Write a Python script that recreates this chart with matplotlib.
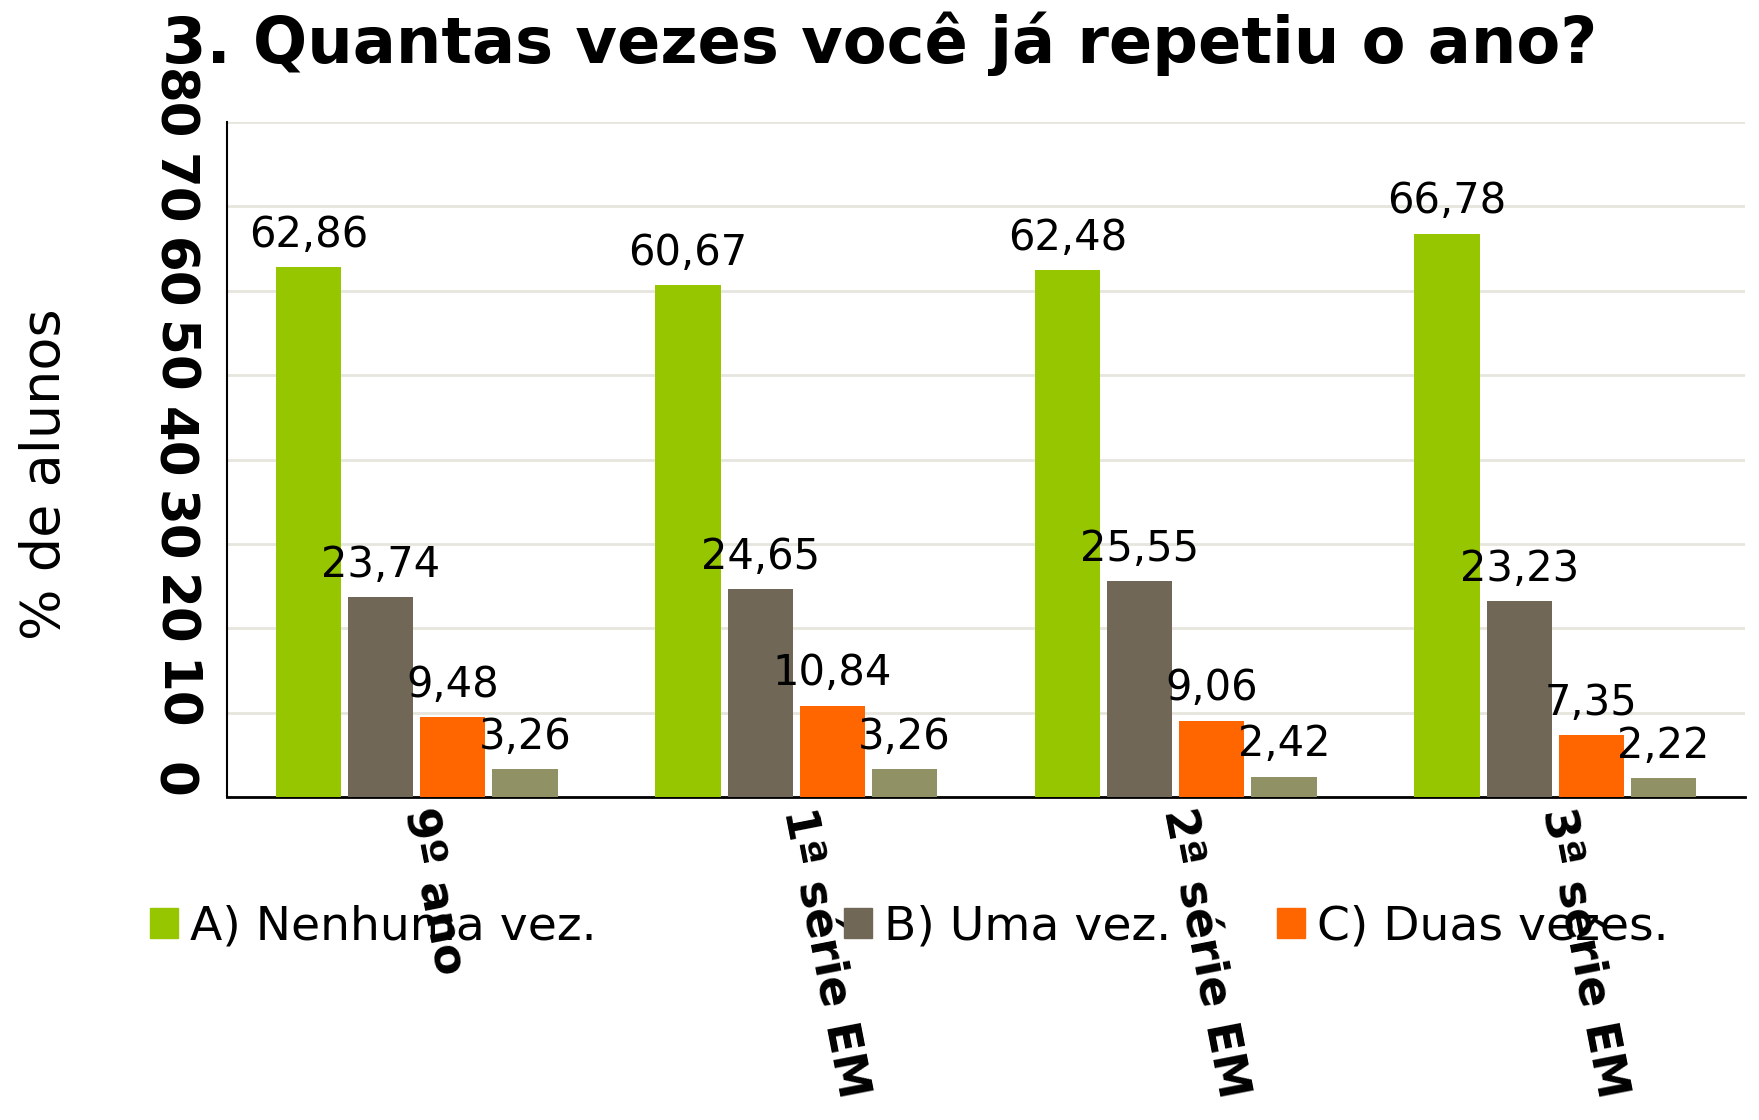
import matplotlib
matplotlib.use("Agg")
import matplotlib.pyplot as plt
import matplotlib.patches as mpatches
from matplotlib.transforms import ScaledTranslation
import numpy as np

categories = ["9º ano", "1ª série EM", "2ª série EM", "3ª série EM"]
series_names = ["A) Nenhuma vez.", "B) Uma vez.", "C) Duas vezes.", "D) Três vezes ou mais."]
nenhuma = [62.86, 60.67, 62.48, 66.78]
uma = [23.74, 24.65, 25.55, 23.23]
duas = [9.48, 10.84, 9.06, 7.35]
tres = [3.26, 3.26, 2.42, 2.22]
colors = ["#95C600", "#716757", "#FF6600", "#909266"]
y_ticks = [0, 10, 20, 30, 40, 50, 60, 70, 80]

W, H, DPI = 1759, 1120, 100
fig = plt.figure(figsize=(W / DPI, H / DPI), dpi=DPI)
ax = fig.add_axes([227 / W, 1 - 797 / H, (1745 - 227) / W, (797 - 122) / H])

values = [nenhuma, uma, duas, tres]
x = np.arange(len(categories))
bw = 0.172
step = 0.19
offsets = [-1.5 * step, -0.5 * step, 0.5 * step, 1.5 * step]
for vals, off, col in zip(values, offsets, colors):
    bars = ax.bar(x + off, vals, width=bw, color=col, zorder=3)
    for b, v in zip(bars, vals):
        ax.annotate(f"{v:.2f}".replace(".", ","),
                    (b.get_x() + b.get_width() / 2, v),
                    xytext=(0, 8), textcoords="offset points",
                    ha="center", va="bottom", fontsize=30, zorder=4)

ax.set_xlim(-0.5, len(categories) - 0.5)
ax.set_ylim(0, 80)
ax.set_yticks(y_ticks)
ax.set_yticklabels([str(t) for t in y_ticks], rotation=-90, fontsize=37,
                   fontweight="bold", va="center", ha="right")
ax.tick_params(axis="y", length=0, pad=22)
off_t = ScaledTranslation(0, 17 / DPI, fig.dpi_scale_trans)
for lab in ax.get_yticklabels():
    lab.set_transform(lab.get_transform() + off_t)

ax.set_xticks(x)
ax.set_xticklabels(categories, rotation=-79, fontsize=33, fontweight="bold",
                   ha="left", va="center", rotation_mode="anchor")
ax.tick_params(axis="x", length=0, pad=8)

ax.grid(axis="y", color="#E6E6DE", linewidth=2, zorder=0)
ax.set_axisbelow(True)
for s in ["top", "right"]:
    ax.spines[s].set_visible(False)
ax.spines["left"].set_color("black")
ax.spines["left"].set_linewidth(1.5)
ax.spines["bottom"].set_color("black")
ax.spines["bottom"].set_linewidth(2)

fig.text(0.5, 1 - 63 / H, "3. Quantas vezes você já repetiu o ano?",
         ha="center", va="baseline", fontsize=46, fontweight="bold")
fig.text(45 / W, 1 - 474 / H, "% de alunos", rotation=90, ha="center",
         va="center", fontsize=39)

leg_x = [150, 844, 1277]
for i, lx in enumerate(leg_x):
    h = mpatches.Patch(color=colors[i])
    fig.legend(handles=[h], labels=[series_names[i]], loc="center left",
               bbox_to_anchor=(lx / W, 1 - 927 / H), frameon=False,
               fontsize=34, handlelength=0.6, handleheight=0.6,
               handletextpad=0.25, borderpad=0, borderaxespad=0)

fig.savefig("out.png", dpi=DPI)
